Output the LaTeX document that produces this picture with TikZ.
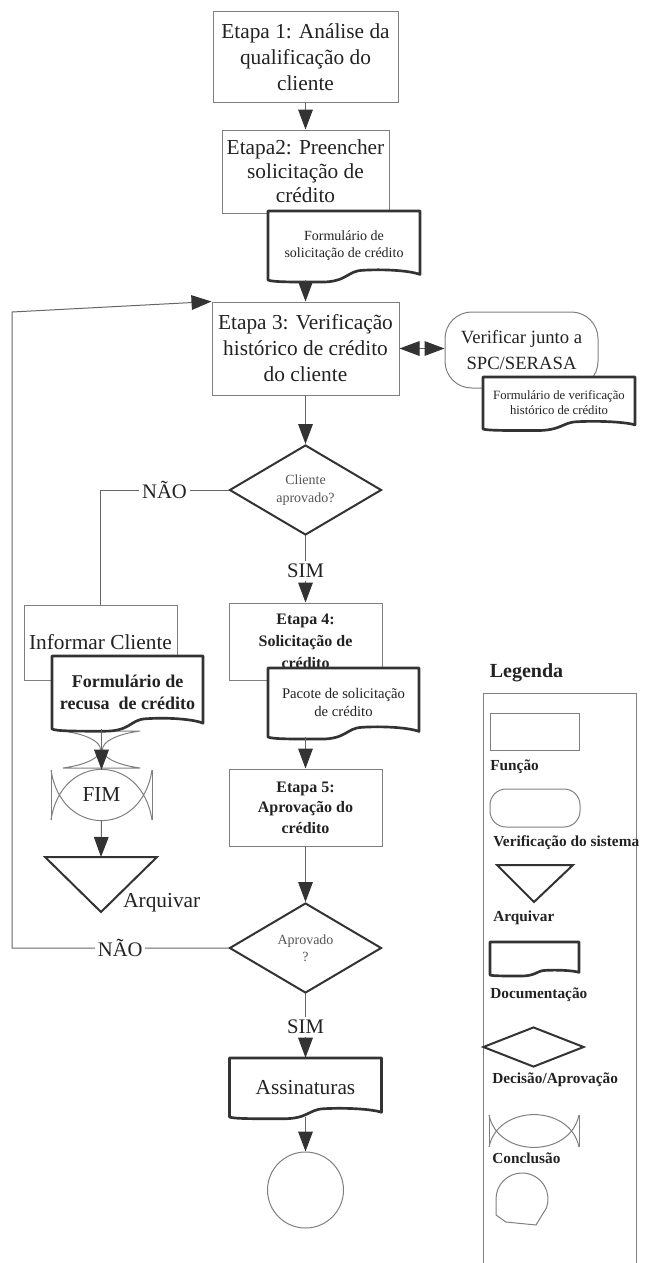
\documentclass[tikz,border=0pt]{standalone}
\usepackage{fontspec}
\setmainfont{Liberation Serif}
\usepackage{tikz}
\usetikzlibrary{arrows.meta,shapes.geometric}

\definecolor{cinzaborda}{HTML}{7F7F7F}
\definecolor{cinzaescuro}{HTML}{333333}
\definecolor{cinzalinha}{HTML}{666666}
\definecolor{cinzatexto}{HTML}{555555}
\definecolor{textopreto}{HTML}{222222}

% documento: opcoes, nome, centro, largura, altura, texto
\newcommand{\docnode}[6]{%
  \draw[docline,shift={#3}] (-#4/2,-#5/2) -- (#4/2,-#5/2) -- (#4/2,0.42*#5)
    .. controls (0.43*#4,0.36*#5) and (0.25*#4,0.34*#5) .. (0.12*#4,0.36*#5)
    .. controls (0.02*#4,0.37*#5) and (0.02*#4,0.53*#5) .. (-0.15*#4,0.53*#5)
    .. controls (-0.35*#4,0.53*#5) and (-0.47*#4,0.53*#5) .. (-#4/2,#5/2) -- cycle;
  \node[doctext,minimum width=#4*0.75pt,minimum height=#5*0.75pt,#1] (#2) at #3 {#6};
}
% conclusao: nome, centro, largura, altura, texto
\newcommand{\conclnode}[5]{%
  \draw[concline,shift={#2}] (-#3/2,-#4/2) -- (-#3/2,#4/2) (#3/2,-#4/2) -- (#3/2,#4/2);
  \draw[concline,shift={#2}] (-#3/2,#4/2) .. controls (-0.4*#3,-0.85*#4) and (0.4*#3,-0.85*#4) .. (#3/2,#4/2)
    (-#3/2,-#4/2) .. controls (-0.4*#3,0.85*#4) and (0.4*#3,0.85*#4) .. (#3/2,-#4/2);
  \node[conctext,minimum width=#3*0.75pt,minimum height=#4*0.75pt] (#1) at #2 {#5};
}

\begin{document}
\begin{tikzpicture}[x=0.75pt,y=-0.75pt,
every node/.style={text=textopreto},
box/.style={draw=cinzaborda,line width=0.75pt,rectangle,align=center,inner sep=0pt},
etapa/.style={box,font=\fontsize{16}{19.5}\selectfont},
etapab/.style={box,font=\bfseries\fontsize{12}{16.5}\selectfont},
decisao/.style={diamond,draw=cinzaescuro,line width=1.5pt,aspect=1.7,inner sep=0pt,align=center,text=cinzatexto,font=\fontsize{10.5}{14}\selectfont},
docline/.style={draw=cinzaescuro,line width=2pt,fill=white,line join=round},
doctext/.style={align=center,inner sep=0pt},
concline/.style={draw=cinzaborda,line width=0.75pt},
conctext/.style={inner sep=0pt,font=\fontsize{16}{19}\selectfont},
triline/.style={draw=cinzaescuro,line width=1.5pt},
linha/.style={draw=cinzalinha,line width=0.75pt},
seta/.style={linha,-{Triangle[length=15pt,width=11pt,color=cinzaescuro]}},
rotulo/.style={fill=white,inner sep=2pt,font=\fontsize{15.5}{18}\selectfont},
leg/.style={anchor=west,inner sep=0pt,font=\bfseries\fontsize{11.5}{14}\selectfont}]

\useasboundingbox (0,0) rectangle (646,1263);

\node[etapa,minimum width=185*0.75pt,minimum height=90*0.75pt] (e1) at (305.5,57) {Etapa 1: Análise da\\qualificação do\\cliente};
\node[etapa,minimum width=167*0.75pt,minimum height=83*0.75pt,font=\fontsize{16}{18}\selectfont] (e2) at (305.5,171.5) {Etapa2: Preencher\\solicitação de\\crédito};
\node[etapa,minimum width=187*0.75pt,minimum height=93*0.75pt] (e3) at (305.5,348.5) {Etapa 3: Verificação\\histórico de crédito\\do cliente};
\node[box,rounded corners=20pt,minimum width=153*0.75pt,minimum height=76*0.75pt,font=\fontsize{14}{19}\selectfont] (ver) at (521.5,350) {Verificar junto a\\SPC/SERASA};
\node[decisao,minimum width=152*0.75pt,minimum height=90*0.75pt] (d1) at (305.5,490) {Cliente\\aprovado?};
\node[etapa,minimum width=153*0.75pt,minimum height=75*0.75pt] (info) at (100.5,642.5) {Informar Cliente};
\node[etapab,minimum width=153*0.75pt,minimum height=77*0.75pt] (e4) at (305.5,641.5) {Etapa 4:\\Solicitação de\\crédito};
\node[etapab,minimum width=153*0.75pt,minimum height=77*0.75pt,font=\bfseries\fontsize{12}{15.5}\selectfont] (e5) at (305.5,807.5) {Etapa 5:\\Aprovação do\\crédito};
\node[decisao,minimum width=152*0.75pt,minimum height=90*0.75pt,font=\fontsize{10.5}{13}\selectfont] (d2) at (305.5,948) {Aprovado\\?};
\node[draw=cinzaborda,line width=0.75pt,circle,minimum size=76*0.75pt,inner sep=0pt] (circ) at (305.5,1190) {};

\draw[concline] (63,731) -- (140,731) (63,768) -- (140,768)
  (63,731) .. controls (113,738) and (113,761) .. (63,768)
  (140,731) .. controls (90,738) and (90,761) .. (140,768);

\docnode{font=\fontsize{10.5}{12.75}\selectfont}{f1}{(344,245.5)}{152}{69}{Formulário de\\solicitação de crédito}
\docnode{font=\fontsize{9.5}{11.25}\selectfont}{f2}{(559,403)}{152}{52}{Formulário de verificação\\histórico de crédito}
\docnode{font=\bfseries\fontsize{13.5}{17}\selectfont}{f3}{(127.5,692.5)}{151}{73}{Formulário de\\recusa\ \ de crédito}
\docnode{font=\fontsize{11}{14}\selectfont}{f4}{(343.5,702.5)}{151}{69}{Pacote de solicitação\\de crédito}
\docnode{font=\fontsize{16}{19}\selectfont}{assin}{(305.5,1087.5)}{152}{59}{Assinaturas}

\conclnode{fim}{(101.5,795)}{101}{50}{FIM}
\draw[triline] (45,857) -- (157,857) -- (101,912) -- cycle;
\coordinate (arqtopo) at (101,857);
\node[anchor=west,inner sep=0pt,font=\fontsize{16}{19}\selectfont] (arqtxt) at (123,903) {Arquivar};

\node[rotulo] (sim1) at (305.5,571) {SIM};
\node[rotulo] (sim2) at (305.5,1027) {SIM};
\coordinate (canto) at (12,312);

\draw[seta] (e1) -- (e2);
\draw[seta] (f1.south -| e3.north) -- (e3.north);
\draw[seta] (e3) -- (d1);
\draw[linha,{Triangle[length=15pt,width=11pt,color=cinzaescuro]}-{Triangle[length=15pt,width=11pt,color=cinzaescuro]}] (e3.east) -- (e3.east -| ver.west);
\draw[linha] (d1.west) -- node[rotulo] (nao1) {NÃO} (d1.west -| info.north) -- (info.north);
\draw[linha] (d1.south) -- (sim1);
\draw[seta] (sim1) -- (e4);
\draw[seta] (f4.south -| e5.north) -- (e5.north);
\draw[seta] (e5) -- (d2);
\draw[seta] (d2.west) -- node[rotulo] (nao2) {NÃO} (d2.west -| canto) -- (canto) -- (e3.north west);
\draw[seta] (f3.south -| fim.north) -- (fim.north);
\draw[seta] (fim.south) -- (arqtopo);
\draw[linha] (d2.south) -- (sim2);
\draw[seta] (sim2) -- (assin);
\draw[seta] (assin.south) -- (circ.north);

\node[font=\bfseries\fontsize{15}{18}\selectfont,inner sep=0pt] (legtit) at (526.5,673) {Legenda};
\draw[draw=cinzaborda,line width=0.75pt] (483,1263) -- (483,693) -- (636,693) -- (636,1263);
\node[box,minimum width=89*0.75pt,minimum height=37*0.75pt] (legfun) at (534.5,731.5) {};
\node[leg] (tfun) at (490,767) {Função};
\node[box,rounded corners=12pt,minimum width=90*0.75pt,minimum height=38*0.75pt] (legver) at (535,808) {};
\node[leg] (tver) at (493,843) {Verificação do sistema};
\draw[triline] (497,865) -- (573,865) -- (534,902) -- cycle;
\node[leg] (tarq) at (493,918) {Arquivar};
\docnode{}{legdoc}{(534.5,958.5)}{89}{33}{}
\node[leg] (tdoc) at (490,995) {Documentação};
\node[decisao,minimum width=101*0.75pt,minimum height=40*0.75pt] (legdec) at (533.5,1047) {};
\node[leg] (tdec) at (492,1080) {Decisão/Aprovação};
\conclnode{legcon}{(534,1131)}{90}{32}{}
\node[leg] (tcon) at (492,1158) {Conclusão};
\draw[concline] (496,1215) -- (496,1199) arc[start angle=180,end angle=380,radius=26] -- (536,1225) -- (506,1222) -- cycle;
\end{tikzpicture}
\end{document}
